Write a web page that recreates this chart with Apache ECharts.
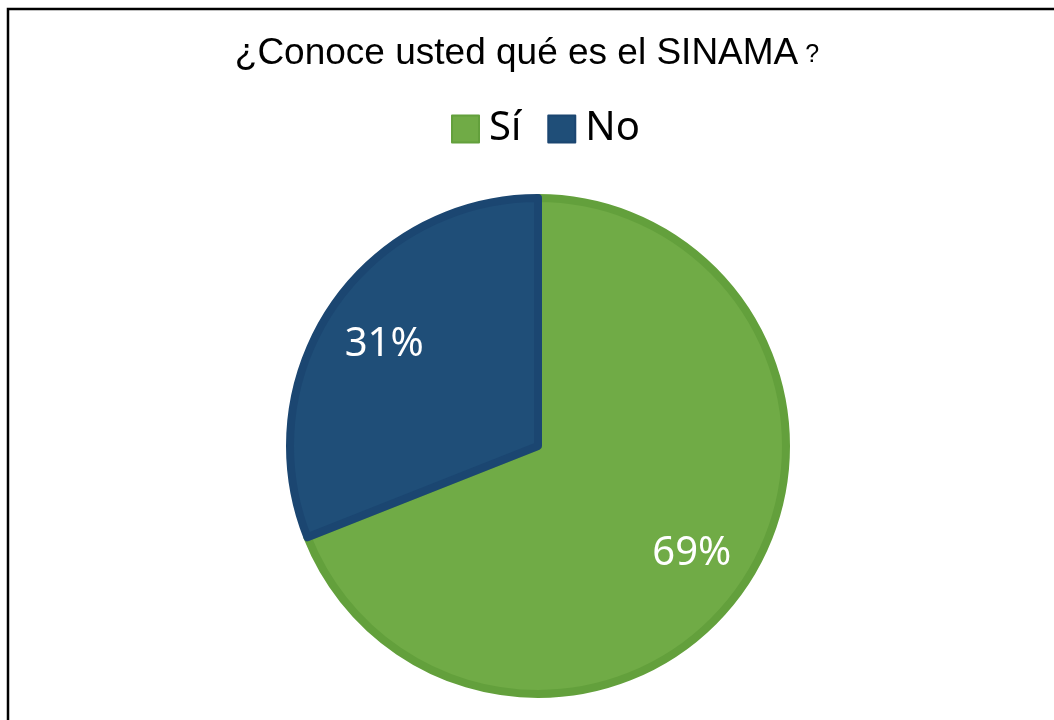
<!DOCTYPE html>
<html>
<head>
<meta charset="utf-8">
<script src="https://cdn.jsdelivr.net/npm/echarts@6/dist/echarts.min.js"></script>
<style>
html,body{margin:0;padding:0;background:#fff;}
#c{width:1054px;height:720px;}
</style>
</head>
<body>
<div id="c"></div>
<script>
const categories = ['Sí', 'No'];
const values = [69, 31];
const fillColors = ['#70AB46', '#1F4E78'];
const edgeColors = ['#63A03C', '#1B4671'];

const chart = echarts.init(document.getElementById('c'));
const pieData = categories.map((n, i) => ({
  name: n, value: values[i],
  itemStyle: { color: fillColors[i], borderColor: edgeColors[i] }
}));
const labelData = categories.map((n, i) => ({
  name: n, value: values[i],
  itemStyle: { color: 'rgba(0,0,0,0)' }
}));

chart.setOption({
  animation: false,
  title: {
    text: '{m|¿Conoce usted qué es el SINAMA}{q|?}',
    left: 'center',
    top: 30,
    textStyle: {
      rich: {
        m: { fontFamily: 'Liberation Sans', fontSize: 37, fontWeight: 'normal', color: '#000' },
        q: { fontFamily: 'Liberation Sans', fontSize: 25, fontWeight: 'normal', color: '#000', verticalAlign: 'bottom', padding: [0,0,4,7] }
      }
    }
  },
  legend: {
    data: categories,
    top: 104,
    left: 446,
    icon: 'rect',
    itemWidth: 27,
    itemHeight: 27,
    itemGap: 26,
    textStyle: { fontFamily: 'Noto Sans', fontSize: 40, color: '#000', padding: [0,0,0,5] }
  },
  graphic: [{
    type: 'rect', silent: true, z: 100,
    shape: { x: 8, y: 9, width: 1200, height: 900 },
    style: { fill: 'none', stroke: '#000', lineWidth: 2.5 }
  }],
  series: [
    {
      type: 'pie',
      center: [538, 446],
      radius: [0, 248],
      startAngle: 90,
      clockwise: true,
      label: { show: false },
      labelLine: { show: false },
      itemStyle: { borderWidth: 8 },
      emphasis: { disabled: true },
      data: pieData
    },
    {
      type: 'pie',
      center: [538, 449],
      radius: [114, 252],
      startAngle: 90,
      clockwise: true,
      silent: true,
      label: {
        show: true, position: 'inside',
        formatter: '{c}%',
        fontFamily: 'Noto Sans', fontSize: 40, color: '#fff'
      },
      labelLine: { show: false },
      emphasis: { disabled: true },
      data: labelData
    }
  ]
});
</script>
</body>
</html>
